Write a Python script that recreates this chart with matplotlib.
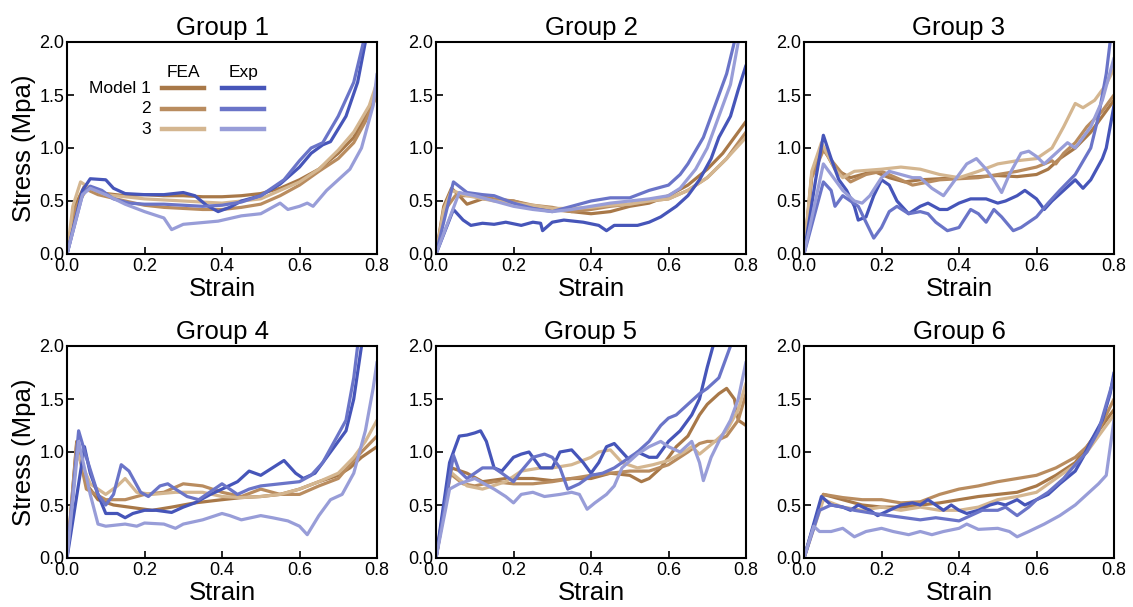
import matplotlib
matplotlib.use("Agg")
import matplotlib.pyplot as plt

plt.rcParams['font.family'] = ['Liberation Sans', 'DejaVu Sans']

# ---------------- data (strain, stress) ----------------
# Group 1
g1_fea1 = [(0, 0), (0.02, 0.45), (0.045, 0.64), (0.06, 0.6), (0.1, 0.57), (0.15, 0.55), (0.2, 0.56), (0.25, 0.55), (0.3, 0.55), (0.35, 0.54), (0.4, 0.54), (0.45, 0.55), (0.5, 0.57), (0.55, 0.62), (0.6, 0.7), (0.65, 0.8), (0.7, 0.95), (0.74, 1.1), (0.77, 1.3), (0.8, 1.55)]
g1_fea2 = [(0, 0), (0.02, 0.42), (0.05, 0.61), (0.08, 0.56), (0.15, 0.5), (0.2, 0.46), (0.25, 0.44), (0.3, 0.43), (0.35, 0.42), (0.4, 0.42), (0.45, 0.44), (0.5, 0.47), (0.55, 0.55), (0.6, 0.65), (0.65, 0.78), (0.7, 0.9), (0.74, 1.05), (0.77, 1.25), (0.8, 1.5)]
g1_fea3 = [(0, 0), (0.015, 0.45), (0.035, 0.68), (0.06, 0.62), (0.1, 0.56), (0.15, 0.54), (0.2, 0.52), (0.25, 0.51), (0.3, 0.5), (0.35, 0.49), (0.4, 0.48), (0.45, 0.5), (0.5, 0.52), (0.55, 0.6), (0.6, 0.68), (0.65, 0.8), (0.7, 0.98), (0.74, 1.15), (0.78, 1.4), (0.8, 1.62)]
g1_exp1 = [(0, 0), (0.04, 0.6), (0.06, 0.71), (0.1, 0.7), (0.12, 0.62), (0.15, 0.57), (0.2, 0.56), (0.25, 0.56), (0.3, 0.58), (0.33, 0.55), (0.36, 0.46), (0.39, 0.4), (0.42, 0.44), (0.45, 0.5), (0.5, 0.55), (0.55, 0.66), (0.6, 0.82), (0.63, 0.95), (0.66, 1.03), (0.68, 1.06), (0.72, 1.3), (0.75, 1.62), (0.77, 2.0), (0.78, 2.3)]
g1_exp2 = [(0, 0), (0.04, 0.56), (0.06, 0.64), (0.09, 0.6), (0.12, 0.52), (0.16, 0.48), (0.2, 0.47), (0.25, 0.47), (0.3, 0.46), (0.35, 0.45), (0.4, 0.46), (0.45, 0.49), (0.5, 0.55), (0.56, 0.7), (0.6, 0.88), (0.63, 1.0), (0.66, 1.05), (0.7, 1.3), (0.74, 1.62), (0.765, 2.0), (0.775, 2.3)]
g1_exp3 = [(0, 0), (0.04, 0.56), (0.06, 0.62), (0.1, 0.56), (0.15, 0.47), (0.2, 0.4), (0.25, 0.34), (0.27, 0.23), (0.3, 0.28), (0.33, 0.29), (0.36, 0.3), (0.39, 0.31), (0.45, 0.36), (0.5, 0.38), (0.55, 0.48), (0.57, 0.42), (0.6, 0.45), (0.62, 0.48), (0.635, 0.45), (0.67, 0.6), (0.7, 0.7), (0.73, 0.8), (0.76, 1.0), (0.79, 1.4), (0.8, 1.7)]

# Group 2
g2_fea1 = [(0, 0), (0.02, 0.45), (0.04, 0.62), (0.06, 0.55), (0.08, 0.47), (0.12, 0.52), (0.2, 0.5), (0.25, 0.45), (0.3, 0.42), (0.35, 0.4), (0.4, 0.38), (0.45, 0.4), (0.5, 0.45), (0.55, 0.48), (0.6, 0.55), (0.65, 0.65), (0.7, 0.8), (0.74, 0.95), (0.77, 1.1), (0.8, 1.25)]
g2_fea2 = [(0, 0), (0.02, 0.4), (0.05, 0.55), (0.1, 0.55), (0.15, 0.52), (0.2, 0.5), (0.25, 0.46), (0.3, 0.44), (0.35, 0.4), (0.4, 0.42), (0.45, 0.45), (0.5, 0.47), (0.55, 0.5), (0.6, 0.52), (0.65, 0.6), (0.7, 0.72), (0.75, 0.9), (0.8, 1.15)]
g2_fea3 = [(0, 0), (0.02, 0.42), (0.04, 0.6), (0.08, 0.55), (0.15, 0.5), (0.2, 0.48), (0.25, 0.46), (0.3, 0.43), (0.35, 0.43), (0.4, 0.44), (0.45, 0.46), (0.5, 0.47), (0.55, 0.5), (0.6, 0.52), (0.65, 0.6), (0.7, 0.72), (0.75, 0.9), (0.8, 1.1)]
g2_exp1 = [(0, 0), (0.045, 0.42), (0.07, 0.32), (0.09, 0.27), (0.12, 0.29), (0.15, 0.28), (0.18, 0.3), (0.22, 0.27), (0.25, 0.3), (0.27, 0.29), (0.275, 0.22), (0.3, 0.3), (0.33, 0.32), (0.38, 0.3), (0.42, 0.27), (0.44, 0.22), (0.46, 0.27), (0.52, 0.27), (0.55, 0.3), (0.58, 0.35), (0.62, 0.45), (0.65, 0.55), (0.68, 0.7), (0.71, 0.9), (0.73, 1.1), (0.76, 1.3), (0.78, 1.55), (0.8, 1.78)]
g2_exp2 = [(0, 0), (0.045, 0.68), (0.08, 0.58), (0.12, 0.56), (0.15, 0.55), (0.2, 0.48), (0.25, 0.43), (0.3, 0.4), (0.35, 0.45), (0.4, 0.5), (0.45, 0.53), (0.5, 0.53), (0.55, 0.6), (0.6, 0.65), (0.63, 0.75), (0.65, 0.85), (0.69, 1.1), (0.72, 1.4), (0.75, 1.7), (0.77, 2.0), (0.78, 2.3)]
g2_exp3 = [(0, 0), (0.06, 0.58), (0.1, 0.55), (0.15, 0.5), (0.2, 0.45), (0.25, 0.42), (0.3, 0.4), (0.35, 0.42), (0.4, 0.45), (0.45, 0.48), (0.5, 0.5), (0.55, 0.52), (0.6, 0.55), (0.63, 0.62), (0.67, 0.8), (0.7, 1.0), (0.73, 1.3), (0.76, 1.6), (0.78, 2.0), (0.79, 2.3)]

# Group 3
g3_fea1 = [(0, 0), (0.02, 0.75), (0.05, 1.0), (0.08, 0.8), (0.12, 0.72), (0.15, 0.75), (0.18, 0.78), (0.22, 0.72), (0.26, 0.68), (0.3, 0.7), (0.4, 0.72), (0.5, 0.74), (0.55, 0.73), (0.6, 0.75), (0.63, 0.8), (0.66, 0.9), (0.7, 1.0), (0.74, 1.15), (0.77, 1.3), (0.8, 1.45)]
g3_fea2 = [(0, 0), (0.02, 0.72), (0.05, 0.98), (0.1, 0.75), (0.12, 0.68), (0.16, 0.75), (0.2, 0.78), (0.25, 0.7), (0.28, 0.65), (0.35, 0.7), (0.45, 0.72), (0.55, 0.78), (0.6, 0.82), (0.64, 0.88), (0.65, 0.85), (0.67, 0.95), (0.7, 1.05), (0.73, 1.2), (0.77, 1.35), (0.8, 1.5)]
g3_fea3 = [(0, 0), (0.02, 0.78), (0.045, 1.05), (0.08, 0.8), (0.1, 0.72), (0.13, 0.78), (0.2, 0.8), (0.25, 0.82), (0.3, 0.8), (0.35, 0.75), (0.4, 0.72), (0.45, 0.78), (0.5, 0.85), (0.55, 0.88), (0.6, 0.9), (0.64, 1.0), (0.67, 1.2), (0.7, 1.42), (0.72, 1.38), (0.75, 1.45), (0.78, 1.6), (0.8, 1.75)]
g3_exp1 = [(0, 0), (0.03, 0.7), (0.05, 1.12), (0.07, 0.9), (0.09, 0.7), (0.11, 0.6), (0.13, 0.45), (0.14, 0.32), (0.16, 0.35), (0.18, 0.55), (0.2, 0.7), (0.22, 0.65), (0.24, 0.5), (0.27, 0.38), (0.3, 0.45), (0.32, 0.48), (0.35, 0.42), (0.37, 0.42), (0.4, 0.48), (0.43, 0.52), (0.47, 0.52), (0.5, 0.48), (0.52, 0.5), (0.55, 0.55), (0.57, 0.6), (0.6, 0.52), (0.62, 0.42), (0.64, 0.5), (0.67, 0.6), (0.7, 0.7), (0.72, 0.62), (0.74, 0.7), (0.77, 0.9), (0.78, 1.0), (0.8, 1.4)]
g3_exp2 = [(0, 0), (0.05, 0.68), (0.07, 0.6), (0.08, 0.45), (0.1, 0.55), (0.12, 0.5), (0.14, 0.45), (0.16, 0.3), (0.18, 0.15), (0.2, 0.25), (0.22, 0.4), (0.24, 0.45), (0.27, 0.38), (0.3, 0.4), (0.32, 0.38), (0.34, 0.3), (0.37, 0.22), (0.4, 0.25), (0.43, 0.42), (0.45, 0.38), (0.47, 0.3), (0.49, 0.42), (0.51, 0.35), (0.54, 0.22), (0.56, 0.25), (0.6, 0.35), (0.63, 0.48), (0.66, 0.6), (0.7, 0.75), (0.74, 1.0), (0.76, 1.3), (0.78, 1.7), (0.79, 2.0), (0.795, 2.3)]
g3_exp3 = [(0, 0), (0.05, 0.85), (0.08, 0.7), (0.1, 0.6), (0.13, 0.5), (0.15, 0.48), (0.17, 0.55), (0.2, 0.72), (0.22, 0.78), (0.25, 0.75), (0.28, 0.72), (0.3, 0.72), (0.33, 0.62), (0.36, 0.55), (0.39, 0.7), (0.42, 0.85), (0.445, 0.9), (0.47, 0.8), (0.49, 0.7), (0.51, 0.58), (0.53, 0.75), (0.56, 0.95), (0.58, 0.97), (0.6, 0.92), (0.62, 0.85), (0.65, 0.95), (0.68, 1.05), (0.7, 1.0), (0.74, 1.2), (0.77, 1.45), (0.8, 1.85)]

# Group 4
g4_fea1 = [(0, 0), (0.025, 1.1), (0.05, 0.7), (0.08, 0.55), (0.12, 0.5), (0.18, 0.47), (0.22, 0.45), (0.27, 0.48), (0.33, 0.52), (0.4, 0.55), (0.45, 0.57), (0.5, 0.58), (0.55, 0.6), (0.6, 0.65), (0.65, 0.72), (0.7, 0.78), (0.73, 0.85), (0.76, 0.95), (0.8, 1.05)]
g4_fea2 = [(0, 0), (0.025, 1.08), (0.05, 0.65), (0.1, 0.55), (0.15, 0.55), (0.2, 0.6), (0.25, 0.62), (0.3, 0.7), (0.35, 0.68), (0.4, 0.62), (0.45, 0.58), (0.5, 0.65), (0.55, 0.6), (0.6, 0.6), (0.65, 0.68), (0.7, 0.75), (0.73, 0.88), (0.76, 1.0), (0.8, 1.15)]
g4_fea3 = [(0, 0), (0.025, 1.0), (0.06, 0.7), (0.1, 0.6), (0.13, 0.68), (0.15, 0.75), (0.18, 0.62), (0.22, 0.6), (0.28, 0.62), (0.35, 0.62), (0.4, 0.58), (0.45, 0.57), (0.5, 0.58), (0.55, 0.6), (0.6, 0.65), (0.65, 0.72), (0.7, 0.8), (0.74, 0.95), (0.77, 1.1), (0.8, 1.3)]
g4_exp1 = [(0, 0), (0.045, 1.05), (0.06, 0.8), (0.08, 0.6), (0.1, 0.42), (0.13, 0.42), (0.15, 0.38), (0.17, 0.42), (0.2, 0.45), (0.23, 0.45), (0.27, 0.43), (0.3, 0.48), (0.33, 0.52), (0.37, 0.6), (0.4, 0.65), (0.44, 0.72), (0.47, 0.82), (0.5, 0.78), (0.53, 0.85), (0.56, 0.92), (0.59, 0.8), (0.61, 0.75), (0.64, 0.8), (0.67, 0.95), (0.7, 1.1), (0.72, 1.2), (0.74, 1.5), (0.76, 2.0), (0.765, 2.3)]
g4_exp2 = [(0, 0), (0.03, 1.2), (0.05, 0.95), (0.08, 0.6), (0.1, 0.5), (0.12, 0.6), (0.14, 0.88), (0.16, 0.82), (0.19, 0.62), (0.21, 0.58), (0.24, 0.68), (0.26, 0.7), (0.28, 0.65), (0.31, 0.58), (0.34, 0.55), (0.36, 0.6), (0.4, 0.7), (0.42, 0.65), (0.44, 0.6), (0.47, 0.65), (0.5, 0.68), (0.55, 0.7), (0.6, 0.72), (0.63, 0.78), (0.66, 0.9), (0.69, 1.1), (0.72, 1.3), (0.74, 1.7), (0.75, 2.0), (0.755, 2.3)]
g4_exp3 = [(0, 0), (0.03, 1.1), (0.06, 0.6), (0.08, 0.32), (0.1, 0.3), (0.15, 0.32), (0.18, 0.3), (0.2, 0.33), (0.25, 0.32), (0.28, 0.28), (0.3, 0.32), (0.35, 0.36), (0.4, 0.42), (0.42, 0.4), (0.45, 0.36), (0.5, 0.4), (0.53, 0.38), (0.57, 0.35), (0.6, 0.3), (0.62, 0.22), (0.65, 0.4), (0.68, 0.55), (0.71, 0.6), (0.74, 0.8), (0.77, 1.2), (0.79, 1.6), (0.8, 1.85)]

# Group 5
g5_fea1 = [(0, 0), (0.04, 0.85), (0.08, 0.8), (0.12, 0.72), (0.18, 0.75), (0.25, 0.75), (0.3, 0.73), (0.35, 0.75), (0.4, 0.75), (0.45, 0.8), (0.5, 0.78), (0.53, 0.72), (0.55, 0.75), (0.58, 0.85), (0.6, 0.95), (0.62, 1.05), (0.65, 1.15), (0.68, 1.35), (0.7, 1.45), (0.73, 1.55), (0.75, 1.6), (0.77, 1.5), (0.78, 1.3), (0.8, 1.25)]
g5_fea2 = [(0, 0), (0.035, 0.8), (0.07, 0.7), (0.1, 0.68), (0.15, 0.72), (0.2, 0.7), (0.25, 0.7), (0.3, 0.72), (0.35, 0.75), (0.4, 0.78), (0.45, 0.8), (0.5, 0.82), (0.55, 0.82), (0.6, 0.88), (0.65, 1.0), (0.68, 1.08), (0.7, 1.1), (0.72, 1.1), (0.75, 1.15), (0.78, 1.3), (0.8, 1.55)]
g5_fea3 = [(0, 0), (0.035, 0.82), (0.08, 0.68), (0.12, 0.65), (0.18, 0.72), (0.22, 0.82), (0.27, 0.85), (0.3, 0.85), (0.35, 0.88), (0.4, 0.95), (0.42, 1.0), (0.45, 1.02), (0.48, 0.9), (0.52, 0.85), (0.56, 0.88), (0.6, 0.92), (0.64, 1.0), (0.66, 1.05), (0.68, 0.98), (0.72, 1.1), (0.75, 1.2), (0.78, 1.4), (0.8, 1.65)]
g5_exp1 = [(0, 0), (0.035, 0.9), (0.06, 1.15), (0.08, 1.16), (0.1, 1.18), (0.115, 1.2), (0.13, 1.1), (0.15, 0.85), (0.17, 0.82), (0.2, 0.95), (0.22, 0.98), (0.24, 1.0), (0.25, 0.95), (0.27, 0.85), (0.3, 0.85), (0.32, 1.0), (0.35, 1.02), (0.38, 0.9), (0.4, 0.8), (0.42, 0.9), (0.44, 1.05), (0.46, 1.08), (0.48, 1.0), (0.5, 0.92), (0.52, 1.0), (0.55, 0.95), (0.57, 0.95), (0.6, 1.1), (0.63, 1.2), (0.66, 1.35), (0.68, 1.5), (0.7, 1.8), (0.715, 2.0), (0.72, 2.3)]
g5_exp2 = [(0, 0), (0.045, 0.97), (0.06, 0.82), (0.08, 0.75), (0.1, 0.8), (0.12, 0.85), (0.15, 0.85), (0.17, 0.8), (0.2, 0.72), (0.22, 0.82), (0.25, 0.95), (0.28, 0.98), (0.3, 0.95), (0.32, 0.85), (0.34, 0.65), (0.37, 0.7), (0.4, 0.78), (0.43, 0.8), (0.46, 0.85), (0.5, 0.95), (0.52, 1.0), (0.55, 1.1), (0.58, 1.25), (0.6, 1.32), (0.62, 1.35), (0.65, 1.45), (0.68, 1.55), (0.7, 1.6), (0.73, 1.7), (0.75, 1.9), (0.76, 2.0), (0.765, 2.3)]
g5_exp3 = [(0, 0), (0.035, 0.65), (0.06, 0.7), (0.1, 0.75), (0.15, 0.65), (0.18, 0.58), (0.2, 0.52), (0.22, 0.6), (0.25, 0.62), (0.28, 0.58), (0.32, 0.6), (0.35, 0.62), (0.37, 0.6), (0.39, 0.46), (0.41, 0.52), (0.44, 0.6), (0.46, 0.68), (0.48, 0.85), (0.52, 0.98), (0.55, 1.05), (0.58, 1.1), (0.6, 1.05), (0.63, 1.0), (0.66, 1.1), (0.68, 0.9), (0.69, 0.73), (0.71, 0.95), (0.73, 1.1), (0.76, 1.3), (0.78, 1.5), (0.8, 1.85)]

# Group 6
g6_fea1 = [(0, 0), (0.05, 0.6), (0.1, 0.55), (0.15, 0.5), (0.2, 0.48), (0.25, 0.48), (0.3, 0.5), (0.35, 0.52), (0.4, 0.55), (0.45, 0.58), (0.5, 0.6), (0.55, 0.62), (0.6, 0.68), (0.65, 0.78), (0.7, 0.9), (0.73, 1.05), (0.76, 1.2), (0.8, 1.4)]
g6_fea2 = [(0, 0), (0.05, 0.6), (0.1, 0.57), (0.15, 0.55), (0.2, 0.55), (0.25, 0.52), (0.3, 0.53), (0.35, 0.6), (0.4, 0.65), (0.45, 0.68), (0.5, 0.72), (0.55, 0.75), (0.6, 0.78), (0.65, 0.85), (0.7, 0.95), (0.73, 1.05), (0.76, 1.2), (0.8, 1.5)]
g6_fea3 = [(0, 0), (0.05, 0.55), (0.1, 0.48), (0.15, 0.45), (0.2, 0.48), (0.25, 0.45), (0.3, 0.48), (0.35, 0.45), (0.4, 0.45), (0.45, 0.48), (0.5, 0.55), (0.55, 0.58), (0.6, 0.62), (0.65, 0.75), (0.7, 0.88), (0.73, 1.0), (0.76, 1.15), (0.8, 1.35)]
g6_exp1 = [(0, 0), (0.045, 0.58), (0.07, 0.5), (0.1, 0.48), (0.12, 0.45), (0.14, 0.5), (0.17, 0.45), (0.19, 0.4), (0.22, 0.45), (0.25, 0.5), (0.28, 0.52), (0.3, 0.5), (0.32, 0.55), (0.34, 0.5), (0.36, 0.45), (0.38, 0.5), (0.4, 0.45), (0.42, 0.42), (0.45, 0.45), (0.48, 0.5), (0.5, 0.52), (0.52, 0.5), (0.55, 0.55), (0.57, 0.5), (0.6, 0.55), (0.63, 0.6), (0.66, 0.7), (0.7, 0.82), (0.72, 0.95), (0.74, 1.1), (0.77, 1.3), (0.79, 1.55), (0.8, 1.75)]
g6_exp2 = [(0, 0), (0.04, 0.45), (0.07, 0.5), (0.1, 0.48), (0.13, 0.45), (0.18, 0.42), (0.22, 0.4), (0.26, 0.38), (0.3, 0.36), (0.34, 0.38), (0.38, 0.36), (0.4, 0.35), (0.43, 0.4), (0.46, 0.45), (0.5, 0.45), (0.52, 0.48), (0.55, 0.4), (0.58, 0.48), (0.6, 0.55), (0.63, 0.62), (0.67, 0.75), (0.7, 0.88), (0.73, 1.0), (0.76, 1.2), (0.78, 1.45), (0.8, 1.7)]
g6_exp3 = [(0, 0), (0.025, 0.3), (0.04, 0.25), (0.07, 0.25), (0.1, 0.28), (0.13, 0.2), (0.16, 0.25), (0.2, 0.28), (0.23, 0.25), (0.27, 0.22), (0.3, 0.25), (0.33, 0.22), (0.36, 0.25), (0.4, 0.28), (0.42, 0.32), (0.45, 0.27), (0.5, 0.28), (0.53, 0.25), (0.55, 0.2), (0.58, 0.25), (0.62, 0.32), (0.66, 0.4), (0.7, 0.5), (0.73, 0.6), (0.76, 0.7), (0.78, 0.78), (0.8, 1.3)]

group_titles = ["Group 1", "Group 2", "Group 3", "Group 4", "Group 5", "Group 6"]
fea_curves = [
    [g1_fea1, g1_fea2, g1_fea3], [g2_fea1, g2_fea2, g2_fea3], [g3_fea1, g3_fea2, g3_fea3],
    [g4_fea1, g4_fea2, g4_fea3], [g5_fea1, g5_fea2, g5_fea3], [g6_fea1, g6_fea2, g6_fea3],
]
exp_curves = [
    [g1_exp1, g1_exp2, g1_exp3], [g2_exp1, g2_exp2, g2_exp3], [g3_exp1, g3_exp2, g3_exp3],
    [g4_exp1, g4_exp2, g4_exp3], [g5_exp1, g5_exp2, g5_exp3], [g6_exp1, g6_exp2, g6_exp3],
]
model_labels = ["Model 1", "2", "3"]
x_ticks = [0.0, 0.2, 0.4, 0.6, 0.8]
y_ticks = [0.0, 0.5, 1.0, 1.5, 2.0]

fea_colors = ["#a87848", "#b98c5f", "#d4b690"]
exp_colors = ["#4655b9", "#6a74c8", "#989dd8"]

# ---------------- figure ----------------
W, H = 1133, 607
fig = plt.figure(figsize=(W / 100, H / 100), dpi=100)

lefts = [67, 436, 804]
width = 310
tops = [42, 346]
height = 212

for i in range(6):
    r, c = divmod(i, 3)
    ax = fig.add_axes([lefts[c] / W, 1 - (tops[r] + height) / H, width / W, height / H])
    for k in range(3):
        xs = [p[0] for p in fea_curves[i][k]]
        ys = [p[1] for p in fea_curves[i][k]]
        ax.plot(xs, ys, color=fea_colors[k], lw=2.3, solid_joinstyle='round', solid_capstyle='round')
    for k in range(3):
        xs = [p[0] for p in exp_curves[i][k]]
        ys = [p[1] for p in exp_curves[i][k]]
        ax.plot(xs, ys, color=exp_colors[k], lw=2.3, solid_joinstyle='round', solid_capstyle='round')
    ax.set_xlim(0, 0.8)
    ax.set_ylim(0, 2.0)
    ax.set_xticks(x_ticks)
    ax.set_yticks(y_ticks)
    ax.set_xticklabels([f"{v:.1f}" for v in x_ticks])
    ax.set_yticklabels([f"{v:.1f}" for v in y_ticks])
    ax.tick_params(direction='in', length=5, width=1.2, labelsize=13, colors='black')
    ax.tick_params(axis='x', pad=3)
    ax.tick_params(axis='y', pad=2)
    for s in ax.spines.values():
        s.set_linewidth(1.5)
    ax.set_title(group_titles[i], fontsize=18.5, pad=5)
    ax.set_xlabel("Strain", fontsize=18.5, labelpad=1)
    if c == 0:
        ax.set_ylabel("Stress (Mpa)", fontsize=18.5, labelpad=2)

    if i == 0:
        ax.text(0.374, 0.858, "FEA", transform=ax.transAxes, ha='center', va='center', fontsize=12.5)
        ax.text(0.568, 0.858, "Exp", transform=ax.transAxes, ha='center', va='center', fontsize=12.5)
        rows_y = [0.781, 0.684, 0.588]
        for k in range(3):
            ax.text(0.271, rows_y[k], model_labels[k], transform=ax.transAxes, ha='right', va='center', fontsize=12.5)
            ax.plot([0.306, 0.442], [rows_y[k], rows_y[k]], transform=ax.transAxes, color=fea_colors[k], lw=3.2)
            ax.plot([0.5, 0.635], [rows_y[k], rows_y[k]], transform=ax.transAxes, color=exp_colors[k], lw=3.2)

fig.savefig("out.png", dpi=100)
